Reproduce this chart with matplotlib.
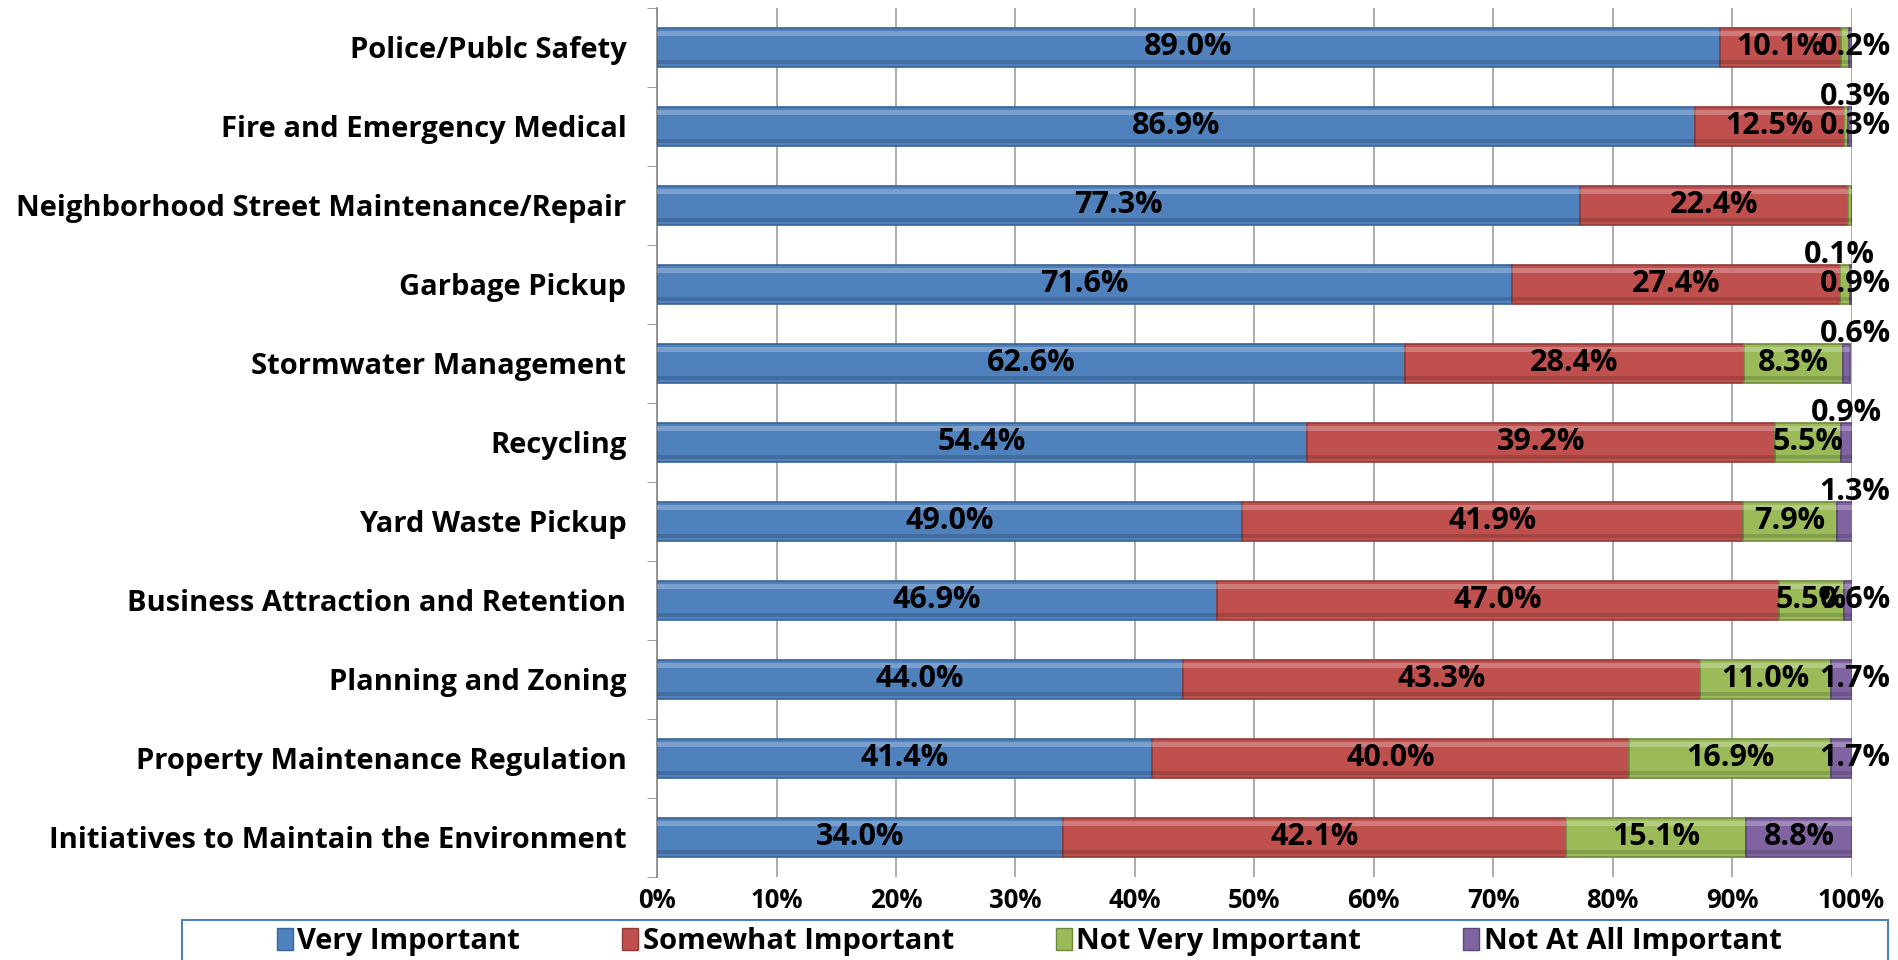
import matplotlib.pyplot as plt
import numpy as np
from matplotlib.patches import Patch, Rectangle

plt.rcParams['font.family'] = ['Open Sans', 'DejaVu Sans']
plt.rcParams['font.weight'] = 'bold'

# survey services, top to bottom
services = ['Police/Publc Safety', 'Fire and Emergency Medical',
            'Neighborhood Street Maintenance/Repair', 'Garbage Pickup',
            'Stormwater Management', 'Recycling', 'Yard Waste Pickup',
            'Business Attraction and Retention', 'Planning and Zoning',
            'Property Maintenance Regulation',
            'Initiatives to Maintain the Environment']

very = [89.0, 86.9, 77.3, 71.6, 62.6, 54.4, 49.0, 46.9, 44.0, 41.4, 34.0]
somewhat = [10.1, 12.5, 22.4, 27.4, 28.4, 39.2, 41.9, 47.0, 43.3, 40.0, 42.1]
not_very = [0.7, 0.3, 0.3, 0.9, 8.3, 5.5, 7.9, 5.5, 11.0, 16.9, 15.1]
not_at_all = [0.2, 0.3, 0.0, 0.1, 0.6, 0.9, 1.3, 0.6, 1.7, 1.7, 8.8]

series_names = ['Very Important', 'Somewhat Important',
                'Not Very Important', 'Not At All Important']

# which value labels are printed (some tiny slivers carry no label)
show_label = [
    [True] * 11,
    [True] * 11,
    [False, True, False, True, True, True, True, True, True, True, True],
    [True, True, False, True, True, True, True, True, True, True, True],
]

colors = ['#4F81BD', '#C0504D', '#9BBB59', '#8064A2']
edges = ['#3A6496', '#8E3B38', '#71893F', '#5C4878']

fig = plt.figure(figsize=(18.99, 9.60), dpi=100)
ax = fig.add_axes([0.346, 0.0865, 0.629, 0.9055])

y = np.arange(len(services))
bar_h = 0.49
data = [very, somewhat, not_very, not_at_all]

left = np.zeros(len(services))
for k, vals in enumerate(data):
    vals = np.array(vals)
    ax.barh(y, vals, bar_h, left=left, color=colors[k],
            edgecolor=edges[k], linewidth=1.2, zorder=3)
    # light bevel along the top, shade along the bottom
    ax.barh(y - bar_h * 0.36, vals, bar_h * 0.12, left=left,
            color='white', alpha=0.25, linewidth=0, zorder=4)
    ax.barh(y + bar_h * 0.38, vals, bar_h * 0.1, left=left,
            color='black', alpha=0.15, linewidth=0, zorder=4)
    for i, v in enumerate(vals):
        if not show_label[k][i]:
            continue
        cx = left[i] + v / 2
        dy = 0
        # small slices crowd at the end of the bar; some get lifted above it
        if k == 3 and i in (1, 3, 4, 5, 6):
            dy = -0.37
        if v < 2:
            cx = max(cx, 100.3)
            if k == 3 and i == 3:
                cx = 99.0
            if k == 3 and i == 5:
                cx = 99.6
        ax.text(cx, i + dy, f'{v:.1f}%', ha='center', va='center',
                fontsize=22, fontweight='bold', color='black', zorder=6)
    left += vals

ax.set_xlim(0, 100)
ax.set_ylim(len(services) - 0.5, -0.5)
ax.set_xticks(np.arange(0, 101, 10))
ax.set_xticklabels([f'{t}%' for t in range(0, 101, 10)], fontsize=18.5,
                   fontweight='bold')
ax.set_yticks(y)
ax.set_yticklabels(services, fontsize=21, fontweight='bold')
ax.set_yticks(np.arange(-0.5, len(services), 1), minor=True)
ax.tick_params(axis='y', which='major', length=0, pad=22)
ax.tick_params(axis='y', which='minor', length=7, color='#888888')
ax.tick_params(axis='x', length=0, pad=7)
ax.grid(axis='x', color='#A0A0A0', linewidth=1.2, zorder=0)
for s in ['top', 'right', 'bottom']:
    ax.spines[s].set_visible(False)
ax.spines['left'].set_color('#888888')
ax.spines['left'].set_linewidth(1.2)

# legend box running off the bottom edge
fig.add_artist(Rectangle((0.096, -0.05), 0.898, 0.092, transform=fig.transFigure,
                         facecolor='none', edgecolor='#4F81BD', linewidth=1.5))
handles = [Patch(facecolor=colors[k], edgecolor=edges[k], label=series_names[k])
           for k in range(4)]
leg = fig.legend(handles=handles, loc='center', ncol=4,
                 bbox_to_anchor=(0.542, 0.019), frameon=False,
                 fontsize=21, handlelength=0.55, handleheight=0.8,
                 handletextpad=0.15, borderaxespad=0, columnspacing=3.5)
for t in leg.get_texts():
    t.set_fontweight('bold')

fig.savefig('out.png', dpi=100)
